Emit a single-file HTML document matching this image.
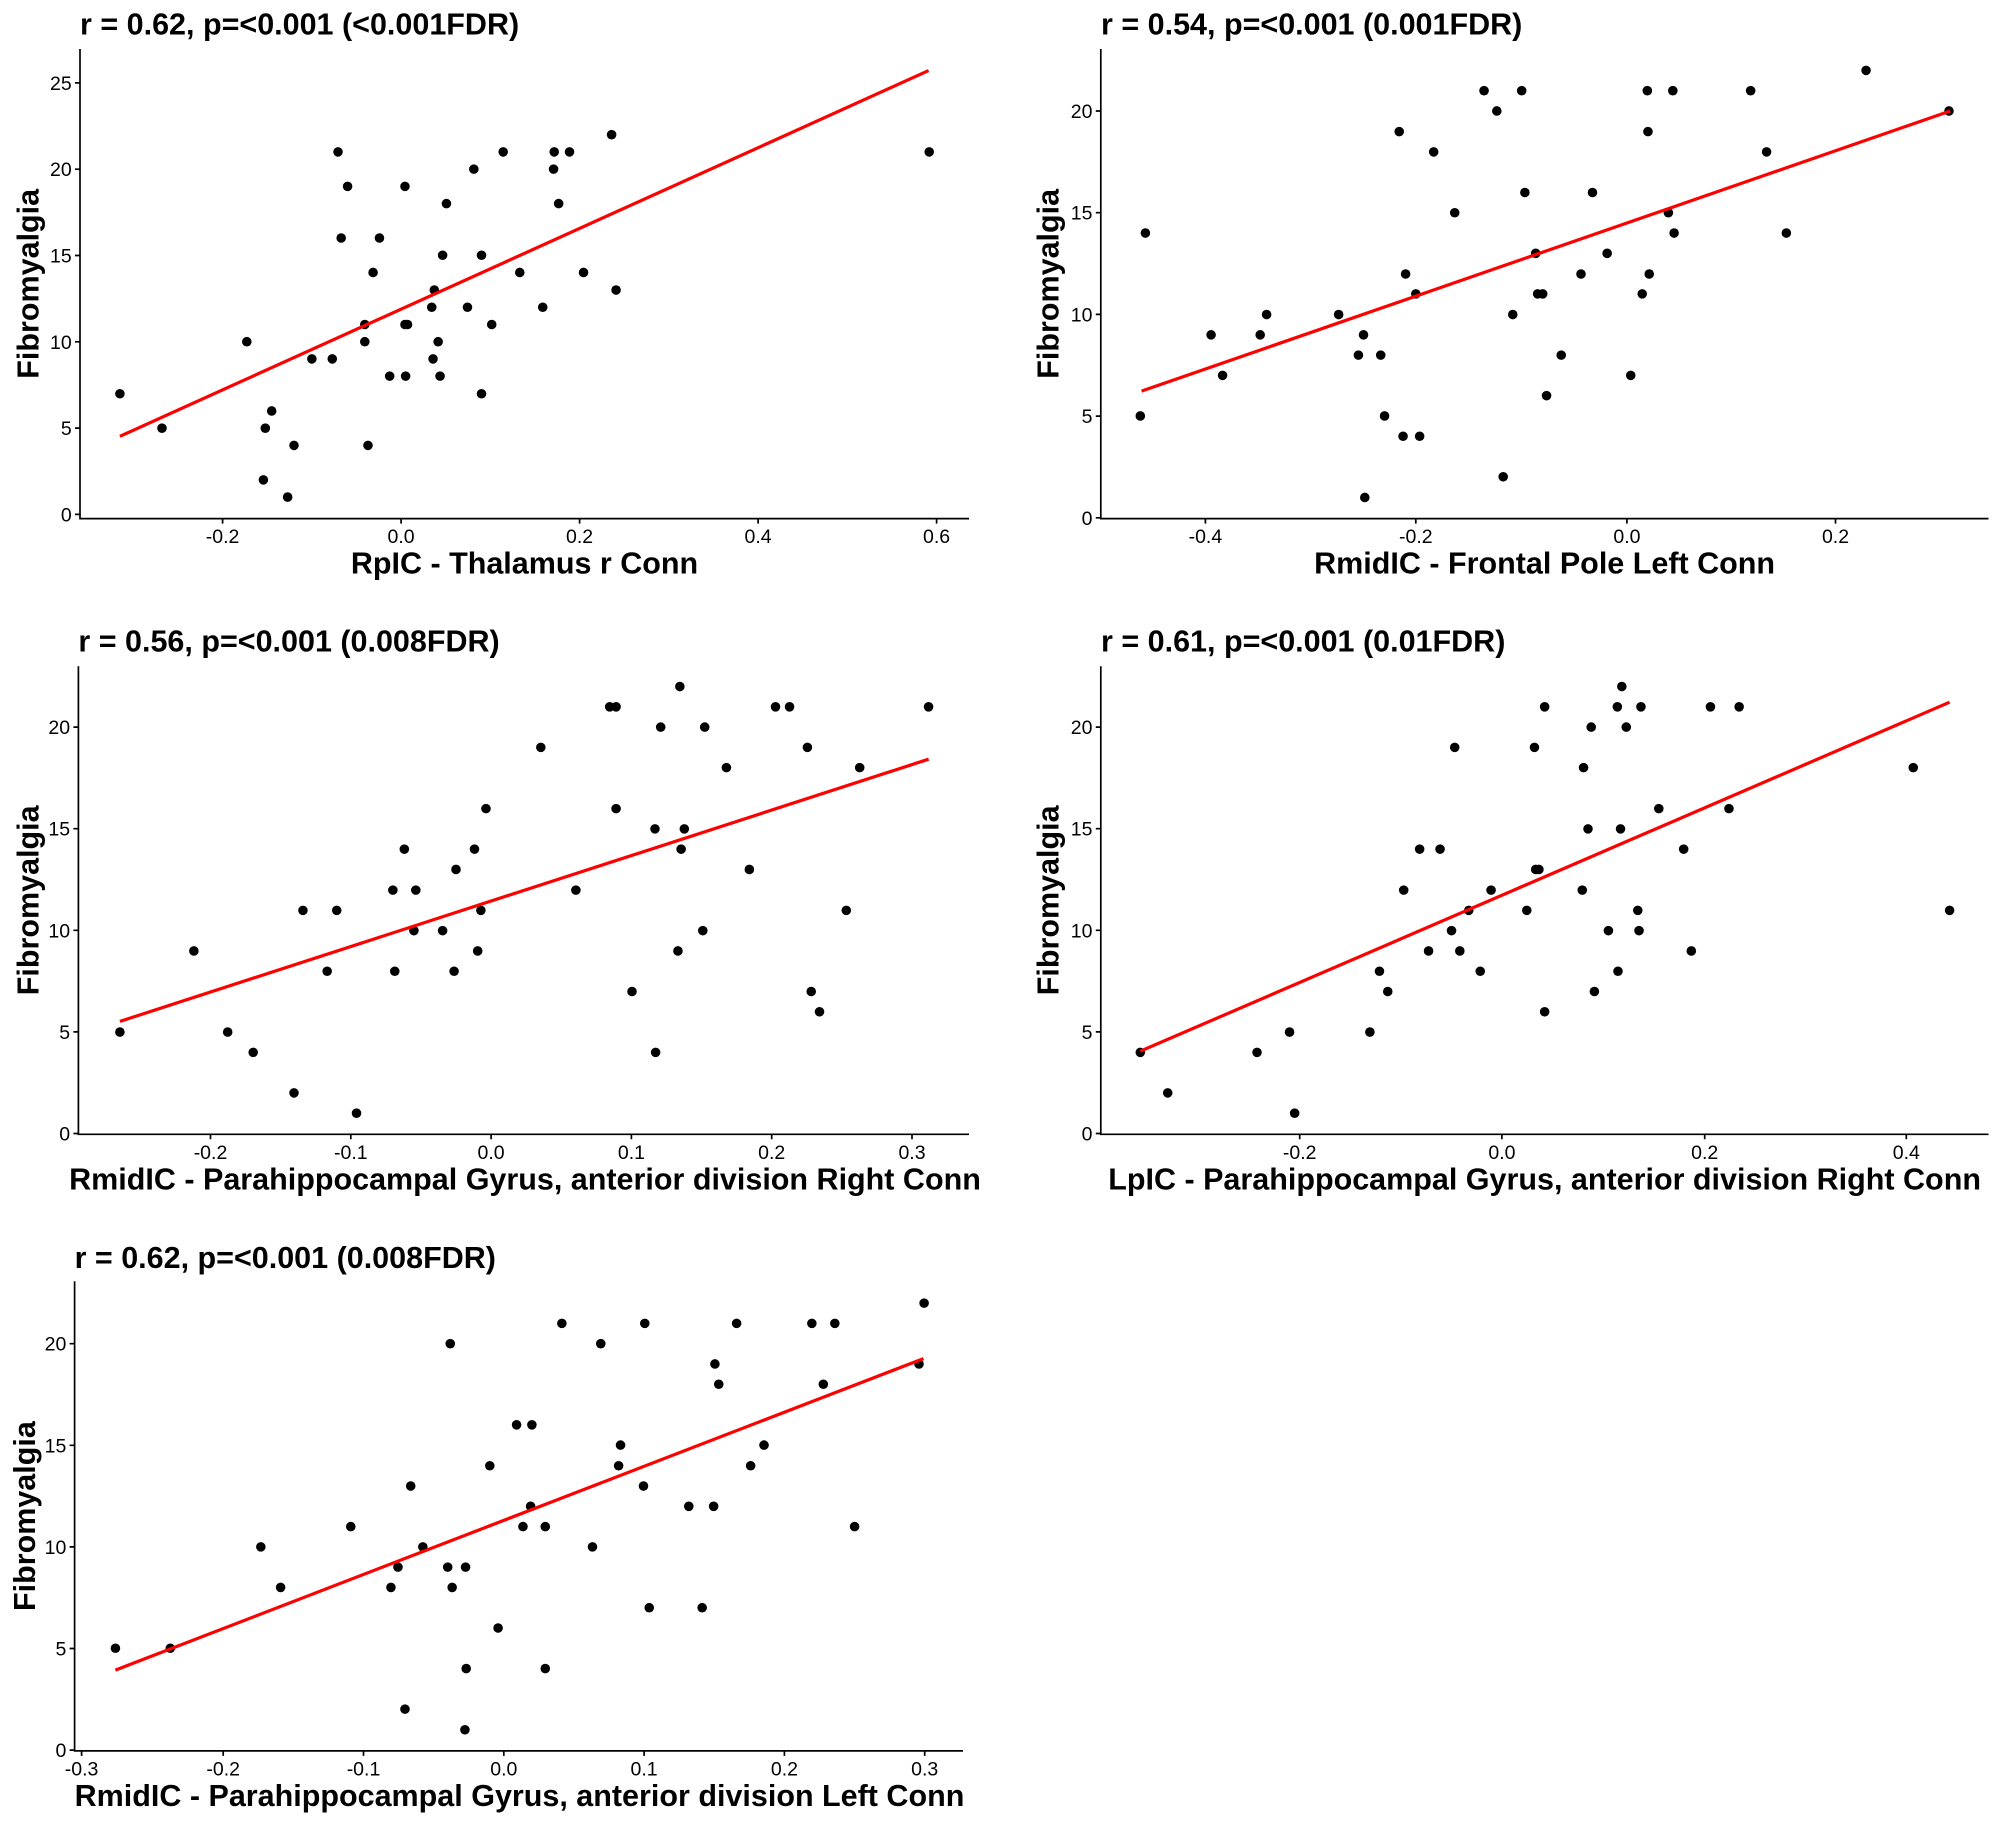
<!DOCTYPE html>
<html><head><meta charset="utf-8"><style>
html,body{margin:0;padding:0;background:#fff;}
svg{display:block;}
.t{font-family:"Liberation Sans",Arial,sans-serif;font-weight:bold;font-size:30.5px;fill:#000;}
.k{font-family:"Liberation Sans",Arial,sans-serif;font-size:19.5px;fill:#000;}
.ax{stroke:#000;stroke-width:1.7;fill:none;}
.rl{stroke:#ff0000;stroke-width:3.2;stroke-linecap:butt;}
</style></head><body>
<svg width="2000" height="1822" viewBox="0 0 2000 1822" xmlns="http://www.w3.org/2000/svg">
<rect width="2000" height="1822" fill="#fff"/>

<!-- ============ PANEL 1 ============ -->
<text class="t" x="80" y="34.7">r = 0.62, p=&lt;0.001 (&lt;0.001FDR)</text>
<path class="ax" d="M80,49 V518.6 H969"/>
<g class="ax">
<path d="M75,514.4H80M75,428.1H80M75,341.8H80M75,255.5H80M75,169.2H80M75,82.9H80"/>
<path d="M222.6,518.6v5M401.1,518.6v5M579.6,518.6v5M758.1,518.6v5M936.6,518.6v5"/>
</g>
<g class="k" text-anchor="end">
<text x="71.7" y="521.4">0</text><text x="71.7" y="435.1">5</text><text x="71.7" y="348.8">10</text><text x="71.7" y="262.5">15</text><text x="71.7" y="176.2">20</text><text x="71.7" y="89.9">25</text>
</g>
<g class="k" text-anchor="middle">
<text x="222.6" y="543.2">-0.2</text><text x="401.1" y="543.2">0.0</text><text x="579.6" y="543.2">0.2</text><text x="758.1" y="543.2">0.4</text><text x="936.6" y="543.2">0.6</text>
</g>
<text class="t" x="524.5" y="573.6" text-anchor="middle">RpIC - Thalamus r Conn</text>
<text class="t" x="38.5" y="283.8" text-anchor="middle" transform="rotate(-90 38.5 283.8)">Fibromyalgia</text>
<g transform="translate(0,0) scale(0.637755,0.382653)" fill="#000">
<ellipse cx="188" cy="1029" rx="7.5" ry="12.5"/><ellipse cx="254" cy="1119" rx="7.5" ry="12.5"/><ellipse cx="387" cy="893" rx="7.5" ry="12.5"/><ellipse cx="413" cy="1254" rx="7.5" ry="12.5"/><ellipse cx="416" cy="1119" rx="7.5" ry="12.5"/><ellipse cx="426" cy="1074" rx="7.5" ry="12.5"/><ellipse cx="451" cy="1299" rx="7.5" ry="12.5"/><ellipse cx="461" cy="1164" rx="7.5" ry="12.5"/><ellipse cx="489" cy="938" rx="7.5" ry="12.5"/><ellipse cx="521" cy="938" rx="7.5" ry="12.5"/><ellipse cx="530" cy="397" rx="7.5" ry="12.5"/><ellipse cx="535" cy="622" rx="7.5" ry="12.5"/><ellipse cx="545" cy="487" rx="7.5" ry="12.5"/><ellipse cx="572" cy="848" rx="7.5" ry="12.5"/><ellipse cx="572" cy="893" rx="7.5" ry="12.5"/><ellipse cx="577" cy="1164" rx="7.5" ry="12.5"/><ellipse cx="585" cy="712" rx="7.5" ry="12.5"/><ellipse cx="595" cy="622" rx="7.5" ry="12.5"/><ellipse cx="611" cy="983" rx="7.5" ry="12.5"/><ellipse cx="635" cy="487" rx="7.5" ry="12.5"/><ellipse cx="635" cy="848" rx="7.5" ry="12.5"/><ellipse cx="639" cy="848" rx="7.5" ry="12.5"/><ellipse cx="636" cy="983" rx="7.5" ry="12.5"/><ellipse cx="677" cy="803" rx="7.5" ry="12.5"/><ellipse cx="679" cy="938" rx="7.5" ry="12.5"/><ellipse cx="681" cy="758" rx="7.5" ry="12.5"/><ellipse cx="687" cy="893" rx="7.5" ry="12.5"/><ellipse cx="690" cy="983" rx="7.5" ry="12.5"/><ellipse cx="694" cy="667" rx="7.5" ry="12.5"/><ellipse cx="700" cy="532" rx="7.5" ry="12.5"/><ellipse cx="733" cy="803" rx="7.5" ry="12.5"/><ellipse cx="743" cy="442" rx="7.5" ry="12.5"/><ellipse cx="755" cy="667" rx="7.5" ry="12.5"/><ellipse cx="755" cy="1029" rx="7.5" ry="12.5"/><ellipse cx="771" cy="848" rx="7.5" ry="12.5"/><ellipse cx="789" cy="397" rx="7.5" ry="12.5"/><ellipse cx="815" cy="712" rx="7.5" ry="12.5"/><ellipse cx="851" cy="803" rx="7.5" ry="12.5"/><ellipse cx="868" cy="442" rx="7.5" ry="12.5"/><ellipse cx="869" cy="397" rx="7.5" ry="12.5"/><ellipse cx="876" cy="532" rx="7.5" ry="12.5"/><ellipse cx="893" cy="397" rx="7.5" ry="12.5"/><ellipse cx="915" cy="712" rx="7.5" ry="12.5"/><ellipse cx="959" cy="352" rx="7.5" ry="12.5"/><ellipse cx="966" cy="758" rx="7.5" ry="12.5"/><ellipse cx="1457" cy="397" rx="7.5" ry="12.5"/>
</g>
<line class="rl" x1="119.9" y1="436.3" x2="928.6" y2="70.6"/>

<!-- ============ PANEL 2 ============ -->
<text class="t" x="1101" y="34.7">r = 0.54, p=&lt;0.001 (0.001FDR)</text>
<path class="ax" d="M1100.8,49 V518.6 H1988.5"/>
<g class="ax">
<path d="M1095.8,517.8H1100.8M1095.8,416.1H1100.8M1095.8,314.4H1100.8M1095.8,212.7H1100.8M1095.8,111H1100.8"/>
<path d="M1205.4,518.6v5M1415.8,518.6v5M1626.9,518.6v5M1835.5,518.6v5"/>
</g>
<g class="k" text-anchor="end">
<text x="1092.5" y="524.8">0</text><text x="1092.5" y="423.1">5</text><text x="1092.5" y="321.4">10</text><text x="1092.5" y="219.7">15</text><text x="1092.5" y="118">20</text>
</g>
<g class="k" text-anchor="middle">
<text x="1205.4" y="543.2">-0.4</text><text x="1415.8" y="543.2">-0.2</text><text x="1626.9" y="543.2">0.0</text><text x="1835.5" y="543.2">0.2</text>
</g>
<text class="t" x="1544.6" y="573.6" text-anchor="middle">RmidIC - Frontal Pole Left Conn</text>
<text class="t" x="1058.5" y="283.8" text-anchor="middle" transform="rotate(-90 1058.5 283.8)">Fibromyalgia</text>
<g transform="translate(1000,0) scale(0.637755,0.382653)" fill="#000">
<ellipse cx="220" cy="1087" rx="7.5" ry="12.5"/><ellipse cx="228" cy="609" rx="7.5" ry="12.5"/><ellipse cx="331" cy="875" rx="7.5" ry="12.5"/><ellipse cx="349" cy="981" rx="7.5" ry="12.5"/><ellipse cx="408" cy="875" rx="7.5" ry="12.5"/><ellipse cx="418" cy="822" rx="7.5" ry="12.5"/><ellipse cx="531" cy="822" rx="7.5" ry="12.5"/><ellipse cx="562" cy="928" rx="7.5" ry="12.5"/><ellipse cx="570" cy="875" rx="7.5" ry="12.5"/><ellipse cx="572" cy="1300" rx="7.5" ry="12.5"/><ellipse cx="597" cy="928" rx="7.5" ry="12.5"/><ellipse cx="603" cy="1087" rx="7.5" ry="12.5"/><ellipse cx="626" cy="344" rx="7.5" ry="12.5"/><ellipse cx="632" cy="1140" rx="7.5" ry="12.5"/><ellipse cx="636" cy="716" rx="7.5" ry="12.5"/><ellipse cx="652" cy="768" rx="7.5" ry="12.5"/><ellipse cx="658" cy="1140" rx="7.5" ry="12.5"/><ellipse cx="680" cy="397" rx="7.5" ry="12.5"/><ellipse cx="713" cy="556" rx="7.5" ry="12.5"/><ellipse cx="759" cy="237" rx="7.5" ry="12.5"/><ellipse cx="779" cy="290" rx="7.5" ry="12.5"/><ellipse cx="789" cy="1246" rx="7.5" ry="12.5"/><ellipse cx="804" cy="822" rx="7.5" ry="12.5"/><ellipse cx="818" cy="237" rx="7.5" ry="12.5"/><ellipse cx="823" cy="503" rx="7.5" ry="12.5"/><ellipse cx="840" cy="662" rx="7.5" ry="12.5"/><ellipse cx="843" cy="768" rx="7.5" ry="12.5"/><ellipse cx="851" cy="768" rx="7.5" ry="12.5"/><ellipse cx="857" cy="1034" rx="7.5" ry="12.5"/><ellipse cx="880" cy="928" rx="7.5" ry="12.5"/><ellipse cx="911" cy="716" rx="7.5" ry="12.5"/><ellipse cx="929" cy="503" rx="7.5" ry="12.5"/><ellipse cx="952" cy="662" rx="7.5" ry="12.5"/><ellipse cx="989" cy="981" rx="7.5" ry="12.5"/><ellipse cx="1007" cy="768" rx="7.5" ry="12.5"/><ellipse cx="1015" cy="237" rx="7.5" ry="12.5"/><ellipse cx="1016" cy="344" rx="7.5" ry="12.5"/><ellipse cx="1018" cy="716" rx="7.5" ry="12.5"/><ellipse cx="1048" cy="556" rx="7.5" ry="12.5"/><ellipse cx="1055" cy="237" rx="7.5" ry="12.5"/><ellipse cx="1057" cy="609" rx="7.5" ry="12.5"/><ellipse cx="1177" cy="237" rx="7.5" ry="12.5"/><ellipse cx="1202" cy="397" rx="7.5" ry="12.5"/><ellipse cx="1233" cy="609" rx="7.5" ry="12.5"/><ellipse cx="1358" cy="184" rx="7.5" ry="12.5"/><ellipse cx="1488" cy="290" rx="7.5" ry="12.5"/>
</g>
<line class="rl" x1="1141.6" y1="391.1" x2="1950.3" y2="111.0"/>

<!-- ============ PANEL 3 ============ -->
<text class="t" x="78.4" y="651.6">r = 0.56, p=&lt;0.001 (0.008FDR)</text>
<path class="ax" d="M78.4,666.3 V1134.3 H969"/>
<g class="ax">
<path d="M73.4,1133.5H78.4M73.4,1031.9H78.4M73.4,930.3H78.4M73.4,828.7H78.4M73.4,727.1H78.4"/>
<path d="M210.5,1134.3v5M350.8,1134.3v5M491.1,1134.3v5M631.4,1134.3v5M771.7,1134.3v5M912,1134.3v5"/>
</g>
<g class="k" text-anchor="end">
<text x="70.1" y="1140.5">0</text><text x="70.1" y="1038.9">5</text><text x="70.1" y="937.3">10</text><text x="70.1" y="835.7">15</text><text x="70.1" y="734.1">20</text>
</g>
<g class="k" text-anchor="middle">
<text x="210.5" y="1158.9">-0.2</text><text x="350.8" y="1158.9">-0.1</text><text x="491.1" y="1158.9">0.0</text><text x="631.4" y="1158.9">0.1</text><text x="771.7" y="1158.9">0.2</text><text x="912" y="1158.9">0.3</text>
</g>
<text class="t" x="525" y="1189.3" text-anchor="middle">RmidIC - Parahippocampal Gyrus, anterior division Right Conn</text>
<text class="t" x="38.5" y="900.3" text-anchor="middle" transform="rotate(-90 38.5 900.3)">Fibromyalgia</text>
<g transform="translate(0,610) scale(0.637755,0.382653)" fill="#000">
<ellipse cx="188" cy="1103" rx="7.5" ry="12.5"/><ellipse cx="304" cy="891" rx="7.5" ry="12.5"/><ellipse cx="357" cy="1103" rx="7.5" ry="12.5"/><ellipse cx="397" cy="1156" rx="7.5" ry="12.5"/><ellipse cx="461" cy="1262" rx="7.5" ry="12.5"/><ellipse cx="475" cy="785" rx="7.5" ry="12.5"/><ellipse cx="513" cy="944" rx="7.5" ry="12.5"/><ellipse cx="528" cy="785" rx="7.5" ry="12.5"/><ellipse cx="559" cy="1315" rx="7.5" ry="12.5"/><ellipse cx="616" cy="732" rx="7.5" ry="12.5"/><ellipse cx="619" cy="944" rx="7.5" ry="12.5"/><ellipse cx="634" cy="625" rx="7.5" ry="12.5"/><ellipse cx="649" cy="838" rx="7.5" ry="12.5"/><ellipse cx="652" cy="732" rx="7.5" ry="12.5"/><ellipse cx="694" cy="838" rx="7.5" ry="12.5"/><ellipse cx="712" cy="944" rx="7.5" ry="12.5"/><ellipse cx="715" cy="678" rx="7.5" ry="12.5"/><ellipse cx="744" cy="625" rx="7.5" ry="12.5"/><ellipse cx="749" cy="891" rx="7.5" ry="12.5"/><ellipse cx="754" cy="785" rx="7.5" ry="12.5"/><ellipse cx="762" cy="519" rx="7.5" ry="12.5"/><ellipse cx="848" cy="359" rx="7.5" ry="12.5"/><ellipse cx="903" cy="732" rx="7.5" ry="12.5"/><ellipse cx="956" cy="253" rx="7.5" ry="12.5"/><ellipse cx="966" cy="253" rx="7.5" ry="12.5"/><ellipse cx="966" cy="519" rx="7.5" ry="12.5"/><ellipse cx="991" cy="997" rx="7.5" ry="12.5"/><ellipse cx="1027" cy="572" rx="7.5" ry="12.5"/><ellipse cx="1028" cy="1156" rx="7.5" ry="12.5"/><ellipse cx="1036" cy="306" rx="7.5" ry="12.5"/><ellipse cx="1063" cy="891" rx="7.5" ry="12.5"/><ellipse cx="1066" cy="200" rx="7.5" ry="12.5"/><ellipse cx="1068" cy="625" rx="7.5" ry="12.5"/><ellipse cx="1073" cy="572" rx="7.5" ry="12.5"/><ellipse cx="1102" cy="838" rx="7.5" ry="12.5"/><ellipse cx="1105" cy="306" rx="7.5" ry="12.5"/><ellipse cx="1139" cy="412" rx="7.5" ry="12.5"/><ellipse cx="1175" cy="678" rx="7.5" ry="12.5"/><ellipse cx="1216" cy="253" rx="7.5" ry="12.5"/><ellipse cx="1238" cy="253" rx="7.5" ry="12.5"/><ellipse cx="1266" cy="359" rx="7.5" ry="12.5"/><ellipse cx="1272" cy="997" rx="7.5" ry="12.5"/><ellipse cx="1285" cy="1050" rx="7.5" ry="12.5"/><ellipse cx="1327" cy="785" rx="7.5" ry="12.5"/><ellipse cx="1348" cy="412" rx="7.5" ry="12.5"/><ellipse cx="1456" cy="253" rx="7.5" ry="12.5"/>
</g>
<line class="rl" x1="119.9" y1="1021.4" x2="928.6" y2="759.2"/>

<!-- ============ PANEL 4 ============ -->
<text class="t" x="1101" y="651.6">r = 0.61, p=&lt;0.001 (0.01FDR)</text>
<path class="ax" d="M1100.8,666.3 V1134.3 H1988.5"/>
<g class="ax">
<path d="M1095.8,1133.5H1100.8M1095.8,1031.9H1100.8M1095.8,930.3H1100.8M1095.8,828.7H1100.8M1095.8,727.1H1100.8"/>
<path d="M1299.7,1134.3v5M1501.9,1134.3v5M1704.7,1134.3v5M1906.3,1134.3v5"/>
</g>
<g class="k" text-anchor="end">
<text x="1092.5" y="1140.5">0</text><text x="1092.5" y="1038.9">5</text><text x="1092.5" y="937.3">10</text><text x="1092.5" y="835.7">15</text><text x="1092.5" y="734.1">20</text>
</g>
<g class="k" text-anchor="middle">
<text x="1299.7" y="1158.9">-0.2</text><text x="1501.9" y="1158.9">0.0</text><text x="1704.7" y="1158.9">0.2</text><text x="1906.3" y="1158.9">0.4</text>
</g>
<text class="t" x="1544.6" y="1189.3" text-anchor="middle">LpIC - Parahippocampal Gyrus, anterior division Right Conn</text>
<text class="t" x="1058.5" y="900.3" text-anchor="middle" transform="rotate(-90 1058.5 900.3)">Fibromyalgia</text>
<g transform="translate(1000,610) scale(0.637755,0.382653)" fill="#000">
<ellipse cx="220" cy="1156" rx="7.5" ry="12.5"/><ellipse cx="263" cy="1262" rx="7.5" ry="12.5"/><ellipse cx="403" cy="1156" rx="7.5" ry="12.5"/><ellipse cx="454" cy="1103" rx="7.5" ry="12.5"/><ellipse cx="462" cy="1315" rx="7.5" ry="12.5"/><ellipse cx="580" cy="1103" rx="7.5" ry="12.5"/><ellipse cx="595" cy="944" rx="7.5" ry="12.5"/><ellipse cx="608" cy="997" rx="7.5" ry="12.5"/><ellipse cx="633" cy="732" rx="7.5" ry="12.5"/><ellipse cx="658" cy="625" rx="7.5" ry="12.5"/><ellipse cx="672" cy="891" rx="7.5" ry="12.5"/><ellipse cx="690" cy="625" rx="7.5" ry="12.5"/><ellipse cx="708" cy="838" rx="7.5" ry="12.5"/><ellipse cx="713" cy="359" rx="7.5" ry="12.5"/><ellipse cx="721" cy="891" rx="7.5" ry="12.5"/><ellipse cx="735" cy="785" rx="7.5" ry="12.5"/><ellipse cx="753" cy="944" rx="7.5" ry="12.5"/><ellipse cx="770" cy="732" rx="7.5" ry="12.5"/><ellipse cx="826" cy="785" rx="7.5" ry="12.5"/><ellipse cx="838" cy="359" rx="7.5" ry="12.5"/><ellipse cx="840" cy="678" rx="7.5" ry="12.5"/><ellipse cx="845" cy="678" rx="7.5" ry="12.5"/><ellipse cx="854" cy="253" rx="7.5" ry="12.5"/><ellipse cx="854" cy="1050" rx="7.5" ry="12.5"/><ellipse cx="913" cy="732" rx="7.5" ry="12.5"/><ellipse cx="915" cy="412" rx="7.5" ry="12.5"/><ellipse cx="922" cy="572" rx="7.5" ry="12.5"/><ellipse cx="927" cy="306" rx="7.5" ry="12.5"/><ellipse cx="932" cy="997" rx="7.5" ry="12.5"/><ellipse cx="954" cy="838" rx="7.5" ry="12.5"/><ellipse cx="968" cy="253" rx="7.5" ry="12.5"/><ellipse cx="969" cy="944" rx="7.5" ry="12.5"/><ellipse cx="973" cy="572" rx="7.5" ry="12.5"/><ellipse cx="975" cy="200" rx="7.5" ry="12.5"/><ellipse cx="982" cy="306" rx="7.5" ry="12.5"/><ellipse cx="1000" cy="785" rx="7.5" ry="12.5"/><ellipse cx="1002" cy="838" rx="7.5" ry="12.5"/><ellipse cx="1005" cy="253" rx="7.5" ry="12.5"/><ellipse cx="1033" cy="519" rx="7.5" ry="12.5"/><ellipse cx="1072" cy="625" rx="7.5" ry="12.5"/><ellipse cx="1084" cy="891" rx="7.5" ry="12.5"/><ellipse cx="1114" cy="253" rx="7.5" ry="12.5"/><ellipse cx="1143" cy="519" rx="7.5" ry="12.5"/><ellipse cx="1159" cy="253" rx="7.5" ry="12.5"/><ellipse cx="1432" cy="412" rx="7.5" ry="12.5"/><ellipse cx="1489" cy="785" rx="7.5" ry="12.5"/>
</g>
<line class="rl" x1="1140.3" y1="1051.2" x2="1949.6" y2="702.2"/>

<!-- ============ PANEL 5 ============ -->
<text class="t" x="74.6" y="1268.2">r = 0.62, p=&lt;0.001 (0.008FDR)</text>
<path class="ax" d="M74.6,1281.3 V1750.9 H963"/>
<g class="ax">
<path d="M69.6,1750.1H74.6M69.6,1648.5H74.6M69.6,1546.9H74.6M69.6,1445.3H74.6M69.6,1343.7H74.6"/>
<path d="M81.6,1750.9v5M223.2,1750.9v5M363.5,1750.9v5M503.8,1750.9v5M644.1,1750.9v5M784.4,1750.9v5M924.7,1750.9v5"/>
</g>
<g class="k" text-anchor="end">
<text x="66.3" y="1757.1">0</text><text x="66.3" y="1655.5">5</text><text x="66.3" y="1553.9">10</text><text x="66.3" y="1452.3">15</text><text x="66.3" y="1350.7">20</text>
</g>
<g class="k" text-anchor="middle">
<text x="81.6" y="1775.5">-0.3</text><text x="223.2" y="1775.5">-0.2</text><text x="363.5" y="1775.5">-0.1</text><text x="503.8" y="1775.5">0.0</text><text x="644.1" y="1775.5">0.1</text><text x="784.4" y="1775.5">0.2</text><text x="924.7" y="1775.5">0.3</text>
</g>
<text class="t" x="519.5" y="1805.9" text-anchor="middle">RmidIC - Parahippocampal Gyrus, anterior division Left Conn</text>
<text class="t" x="35" y="1516.1" text-anchor="middle" transform="rotate(-90 35 1516.1)">Fibromyalgia</text>
<g transform="translate(0,1222) scale(0.637755,0.382653)" fill="#000">
<ellipse cx="181" cy="1114" rx="7.5" ry="12.5"/><ellipse cx="267" cy="1114" rx="7.5" ry="12.5"/><ellipse cx="409" cy="849" rx="7.5" ry="12.5"/><ellipse cx="440" cy="955" rx="7.5" ry="12.5"/><ellipse cx="550" cy="796" rx="7.5" ry="12.5"/><ellipse cx="613" cy="955" rx="7.5" ry="12.5"/><ellipse cx="624" cy="902" rx="7.5" ry="12.5"/><ellipse cx="635" cy="1273" rx="7.5" ry="12.5"/><ellipse cx="644" cy="690" rx="7.5" ry="12.5"/><ellipse cx="663" cy="849" rx="7.5" ry="12.5"/><ellipse cx="702" cy="902" rx="7.5" ry="12.5"/><ellipse cx="706" cy="318" rx="7.5" ry="12.5"/><ellipse cx="709" cy="955" rx="7.5" ry="12.5"/><ellipse cx="729" cy="1327" rx="7.5" ry="12.5"/><ellipse cx="730" cy="902" rx="7.5" ry="12.5"/><ellipse cx="731" cy="1167" rx="7.5" ry="12.5"/><ellipse cx="768" cy="637" rx="7.5" ry="12.5"/><ellipse cx="781" cy="1061" rx="7.5" ry="12.5"/><ellipse cx="810" cy="530" rx="7.5" ry="12.5"/><ellipse cx="820" cy="796" rx="7.5" ry="12.5"/><ellipse cx="832" cy="743" rx="7.5" ry="12.5"/><ellipse cx="834" cy="530" rx="7.5" ry="12.5"/><ellipse cx="855" cy="796" rx="7.5" ry="12.5"/><ellipse cx="855" cy="1167" rx="7.5" ry="12.5"/><ellipse cx="881" cy="265" rx="7.5" ry="12.5"/><ellipse cx="929" cy="849" rx="7.5" ry="12.5"/><ellipse cx="942" cy="318" rx="7.5" ry="12.5"/><ellipse cx="970" cy="637" rx="7.5" ry="12.5"/><ellipse cx="973" cy="583" rx="7.5" ry="12.5"/><ellipse cx="1009" cy="690" rx="7.5" ry="12.5"/><ellipse cx="1011" cy="265" rx="7.5" ry="12.5"/><ellipse cx="1018" cy="1008" rx="7.5" ry="12.5"/><ellipse cx="1080" cy="743" rx="7.5" ry="12.5"/><ellipse cx="1101" cy="1008" rx="7.5" ry="12.5"/><ellipse cx="1119" cy="743" rx="7.5" ry="12.5"/><ellipse cx="1121" cy="371" rx="7.5" ry="12.5"/><ellipse cx="1127" cy="424" rx="7.5" ry="12.5"/><ellipse cx="1155" cy="265" rx="7.5" ry="12.5"/><ellipse cx="1177" cy="637" rx="7.5" ry="12.5"/><ellipse cx="1198" cy="583" rx="7.5" ry="12.5"/><ellipse cx="1273" cy="265" rx="7.5" ry="12.5"/><ellipse cx="1291" cy="424" rx="7.5" ry="12.5"/><ellipse cx="1309" cy="265" rx="7.5" ry="12.5"/><ellipse cx="1340" cy="796" rx="7.5" ry="12.5"/><ellipse cx="1441" cy="371" rx="7.5" ry="12.5"/><ellipse cx="1449" cy="212" rx="7.5" ry="12.5"/>
</g>
<line class="rl" x1="115.4" y1="1670.1" x2="923.5" y2="1358.6"/>

</svg>
</body></html>
